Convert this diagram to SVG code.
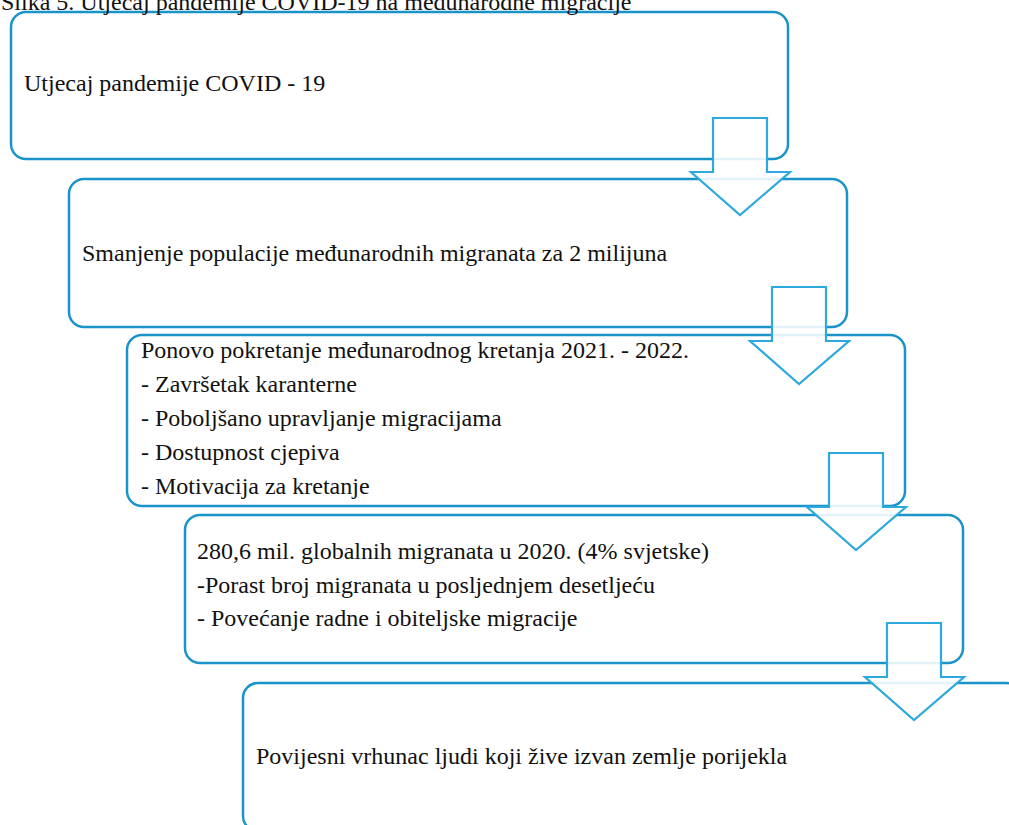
<svg xmlns="http://www.w3.org/2000/svg" width="1009" height="825" viewBox="0 0 1009 825">
<defs>
<path id="arrow" d="M22,0 H76 V54 H99 L49,97 L0,54 H22 Z" fill="#fff" fill-opacity="0.88" stroke="#2ea9dd" stroke-width="2.2"/>
</defs>
<rect width="1009" height="825" fill="#fff"/>
<g id="n1"><rect x="11" y="12" width="777" height="147" rx="15" fill="#fff" stroke="#1a94c8" stroke-width="2.5"/></g>
<g id="n2"><rect x="69" y="179" width="778" height="148" rx="15" fill="#fff" stroke="#1a94c8" stroke-width="2.5"/></g>
<g id="n3"><rect x="127" y="335" width="778" height="171" rx="15" fill="#fff" stroke="#1a94c8" stroke-width="2.5"/></g>
<g id="n4"><rect x="185" y="515" width="778" height="148" rx="15" fill="#fff" stroke="#1a94c8" stroke-width="2.5"/></g>
<g id="n5"><rect x="243" y="683" width="778" height="148" rx="15" fill="#fff" stroke="#1a94c8" stroke-width="2.5"/></g>
<text x="1" y="10" font-family="Liberation Serif" font-size="24" fill="#111">Slika 5. Utjecaj pandemije COVID-19 na međunarodne migracije</text>
<text x="24" y="91" font-family="Liberation Serif" font-size="24" fill="#111">Utjecaj pandemije COVID - 19</text>
<text x="82" y="261" font-family="Liberation Serif" font-size="24" fill="#111">Smanjenje populacije međunarodnih migranata za 2 milijuna</text>
<text x="141" y="358" font-family="Liberation Serif" font-size="24" fill="#111">Ponovo pokretanje međunarodnog kretanja 2021. - 2022.</text>
<text x="141" y="392" font-family="Liberation Serif" font-size="24" fill="#111">- Završetak karanterne</text>
<text x="141" y="426" font-family="Liberation Serif" font-size="24" fill="#111">- Poboljšano upravljanje migracijama</text>
<text x="141" y="460" font-family="Liberation Serif" font-size="24" fill="#111">- Dostupnost cjepiva</text>
<text x="141" y="494" font-family="Liberation Serif" font-size="24" fill="#111">- Motivacija za kretanje</text>
<text x="197" y="559" font-family="Liberation Serif" font-size="24" fill="#111">280,6 mil. globalnih migranata u 2020. (4% svjetske)</text>
<text x="197" y="593" font-family="Liberation Serif" font-size="24" fill="#111">-Porast broj migranata u posljednjem desetljeću</text>
<text x="197" y="626" font-family="Liberation Serif" font-size="24" fill="#111">- Povećanje radne i obiteljske migracije</text>
<text x="256" y="764" font-family="Liberation Serif" font-size="24" fill="#111">Povijesni vrhunac ljudi koji žive izvan zemlje porijekla</text>
<g id="connectors">
<use href="#arrow" x="691" y="118"/>
<use href="#arrow" x="750" y="287"/>
<use href="#arrow" x="807" y="453"/>
<use href="#arrow" x="865" y="623"/>
</g>
</svg>
